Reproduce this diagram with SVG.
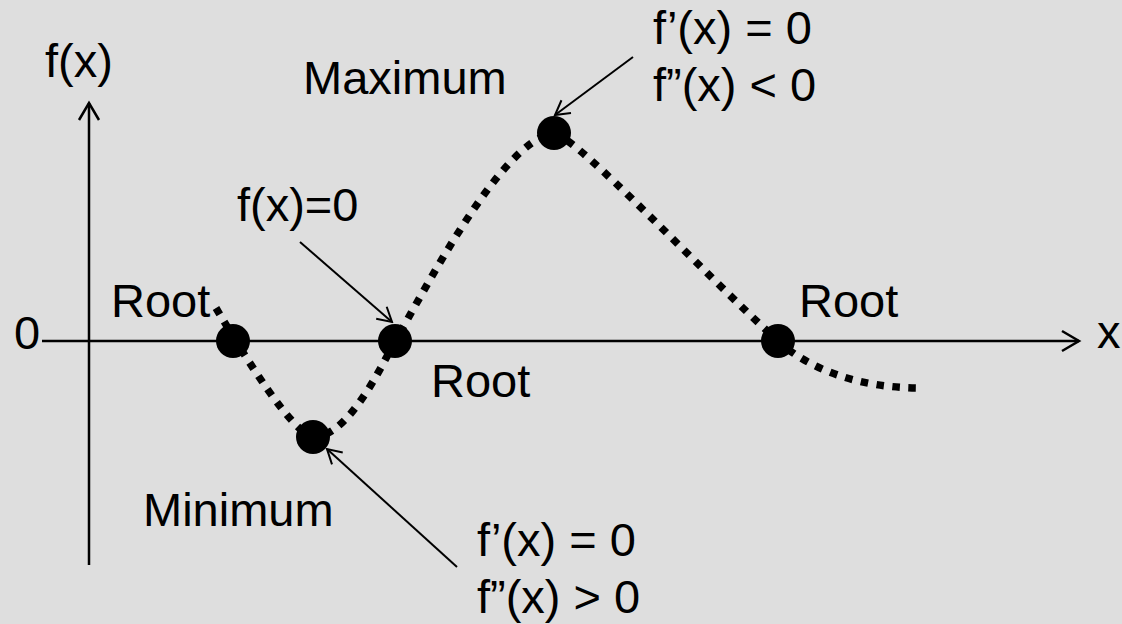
<svg xmlns="http://www.w3.org/2000/svg" width="1122" height="624" viewBox="0 0 1122 624">
  <defs>
    <style>
      .t { font-family: "Liberation Sans", Arial, sans-serif; font-size: 47px; fill: #000; }
      .axis { stroke: #000; stroke-width: 2.5; fill: none; }
      .ann { stroke: #000; stroke-width: 2; fill: none; }
      .curve { stroke: #000; stroke-width: 7.5; fill: none; stroke-dasharray: 7.5 8.5; }
      .dot { fill: #000; }
    </style>
    <marker id="bigOpen" markerUnits="userSpaceOnUse" viewBox="-20 -12 24 24" refX="0" refY="0" markerWidth="24" markerHeight="24" orient="auto">
      <path d="M-17,-10 L0,0 L-17,10" fill="none" stroke="#000" stroke-width="2.5"/>
    </marker>
    <marker id="smallOpen" markerUnits="userSpaceOnUse" viewBox="-18 -10 20 20" refX="0" refY="0" markerWidth="20" markerHeight="20" orient="auto">
      <path d="M-14,-8 L0,0 L-14,8" fill="none" stroke="#000" stroke-width="2"/>
    </marker>
  </defs>
  <rect width="1122" height="624" fill="#DEDEDE"/>

  <g id="axes">
    <line class="axis" x1="89" y1="565" x2="89" y2="103" marker-end="url(#bigOpen)"/>
    <line class="axis" x1="42" y1="341" x2="1079" y2="341" marker-end="url(#bigOpen)"/>
    <text class="t" x="45" y="77">f(x)</text>
    <text class="t" x="1097" y="348">x</text>
    <text class="t" x="14" y="349">0</text>
  </g>

  <g id="curve">
    <path class="curve" d="M216,308 C248,362 292,432 313,437 C345,437 375,380 395,341 C420,300 500,140 554,133 C580,140 700,270 778,341 C810,370 860,388 921,388"/>
  </g>

  <g id="root1">
    <circle class="dot" cx="233" cy="341" r="17"/>
    <text class="t" x="111" y="317">Root</text>
  </g>
  <g id="root2">
    <circle class="dot" cx="395" cy="341" r="17"/>
    <text class="t" x="431" y="397">Root</text>
    <text class="t" x="237" y="221">f(x)=0</text>
  </g>
  <g id="minimum">
    <circle class="dot" cx="313" cy="437" r="17"/>
    <text class="t" x="143" y="526">Minimum</text>
    <text class="t" x="477" y="556">f’(x) = 0</text>
    <text class="t" x="477" y="613">f”(x) &gt; 0</text>
  </g>
  <g id="maximum">
    <circle class="dot" cx="554" cy="133" r="17"/>
    <text class="t" x="303" y="94">Maximum</text>
    <text class="t" x="653" y="44">f’(x) = 0</text>
    <text class="t" x="653" y="101">f”(x) &lt; 0</text>
  </g>
  <g id="root3">
    <circle class="dot" cx="778" cy="341" r="17"/>
    <text class="t" x="799" y="317">Root</text>
  </g>

  <g id="connectors">
    <line class="ann" x1="300" y1="242" x2="392" y2="322" marker-end="url(#smallOpen)"/>
    <line class="ann" x1="633" y1="57" x2="555" y2="115" marker-end="url(#smallOpen)"/>
    <line class="ann" x1="457" y1="567" x2="327" y2="449" marker-end="url(#smallOpen)"/>
  </g>
</svg>
